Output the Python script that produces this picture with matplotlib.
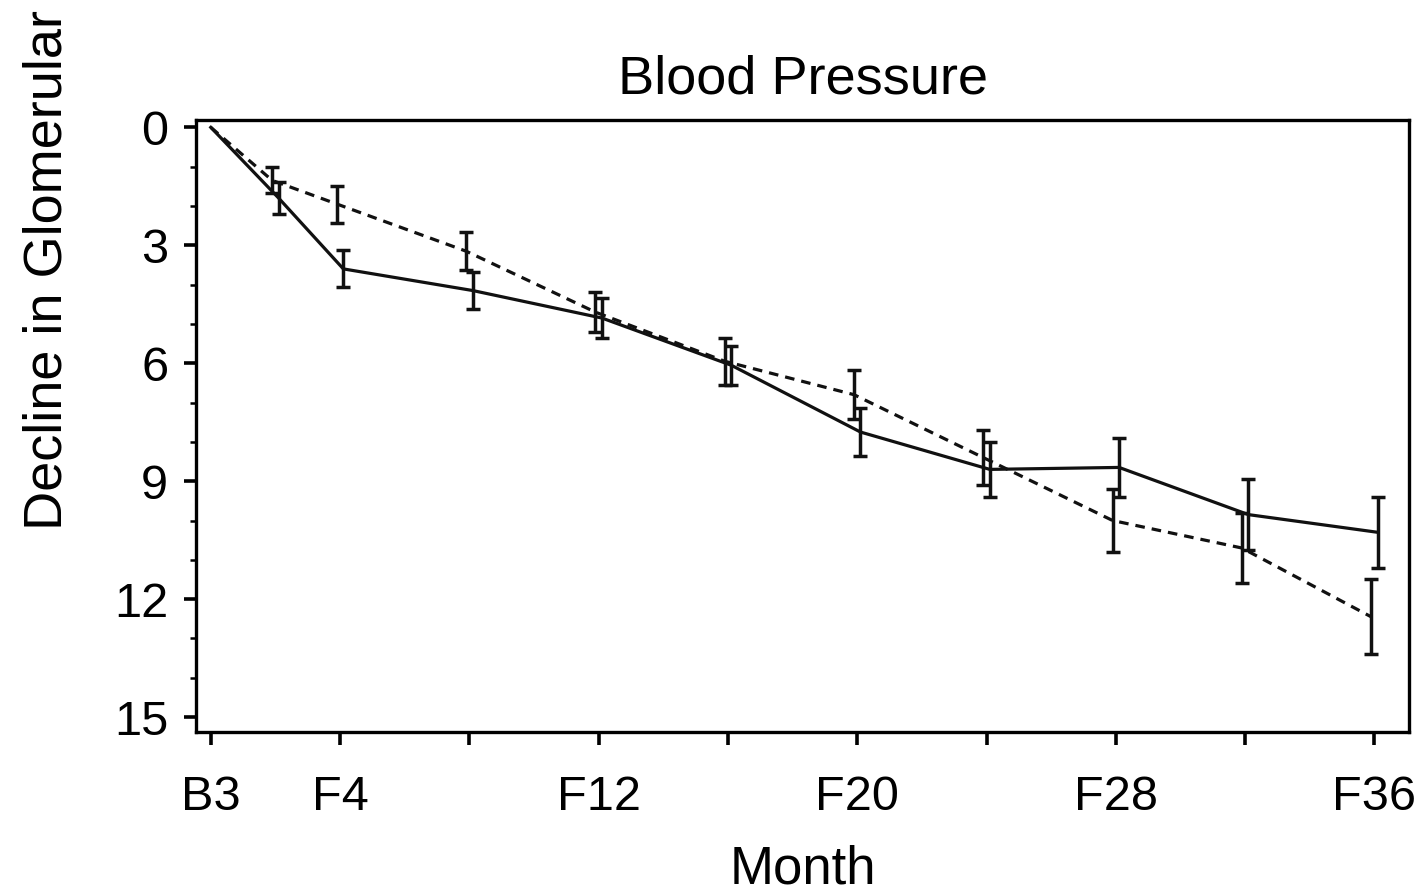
"""Decline in glomerular filtration rate by blood-pressure group."""

import matplotlib

matplotlib.use("Agg")
import matplotlib.pyplot as plt
from matplotlib.ticker import MultipleLocator

# months after baseline; B3 drawn at 0
months = [0, 2, 4, 8, 12, 16, 20, 24, 28, 32, 36]
tick_months = [0, 4, 8, 12, 16, 20, 24, 28, 32, 36]
tick_labels = ["B3", "F4", "", "F12", "", "F20", "", "F28", "", "F36"]

solid_mean = [0, 1.8, 3.6, 4.15, 4.85, 6.05, 7.75, 8.7, 8.65, 9.85, 10.3]
solid_err = [0, 0.4, 0.47, 0.47, 0.5, 0.5, 0.6, 0.7, 0.76, 0.9, 0.9]
dashed_mean = [0, 1.35, 1.95, 3.15, 4.7, 5.95, 6.8, 8.4, 10.0, 10.7, 12.45]
dashed_err = [0, 0.33, 0.47, 0.48, 0.5, 0.6, 0.63, 0.7, 0.8, 0.88, 0.95]

plt.rcParams.update(
    {
        "font.family": "Liberation Sans",
        "axes.linewidth": 2.4,
    }
)

fig = plt.figure(figsize=(14.25, 8.91), dpi=100)
ax = fig.add_axes([0.1375, 0.178, 0.8515, 0.687])

off = 0.1
xs_solid = [m + off if m else m for m in months]
xs_dash = [m - off if m else m for m in months]

ax.plot(xs_solid, solid_mean, color="#111111", linewidth=2.3)
ax.plot(xs_dash, dashed_mean, color="#111111", linewidth=2.3, linestyle=(0, (3, 2.2)))
ax.errorbar(
    xs_solid[1:], solid_mean[1:], yerr=solid_err[1:], fmt="none",
    ecolor="#111111", elinewidth=2.5, capsize=4.7, capthick=2.5,
)
ax.errorbar(
    xs_dash[1:], dashed_mean[1:], yerr=dashed_err[1:], fmt="none",
    ecolor="#111111", elinewidth=2.5, capsize=4.7, capthick=2.5,
)

ax.set_xlim(-0.46, 37.08)
ax.set_ylim(15.39, -0.18)
ax.set_xticks(tick_months, labels=tick_labels)
ax.set_yticks([0, 3, 6, 9, 12, 15])
ax.yaxis.set_minor_locator(MultipleLocator(1))
ax.tick_params(axis="x", length=9.4, width=2.6, pad=21, labelsize=35)
ax.tick_params(axis="y", which="major", length=9, width=2.6, pad=11, labelsize=35)
ax.tick_params(axis="y", which="minor", length=4.5, width=1.8)

ax.set_title("Blood Pressure", fontsize=39, pad=19.5)
fig.text(0.5635, 1 - 884 / 891, "Month", fontsize=38, ha="center", va="baseline")
fig.text(
    62 / 1425, 1 - 530 / 891, "Decline in Glomerular Filtration Rate", fontsize=39,
    rotation=90, rotation_mode="anchor", ha="left", va="baseline",
)

fig.savefig("out.png", dpi=100, facecolor="white")
